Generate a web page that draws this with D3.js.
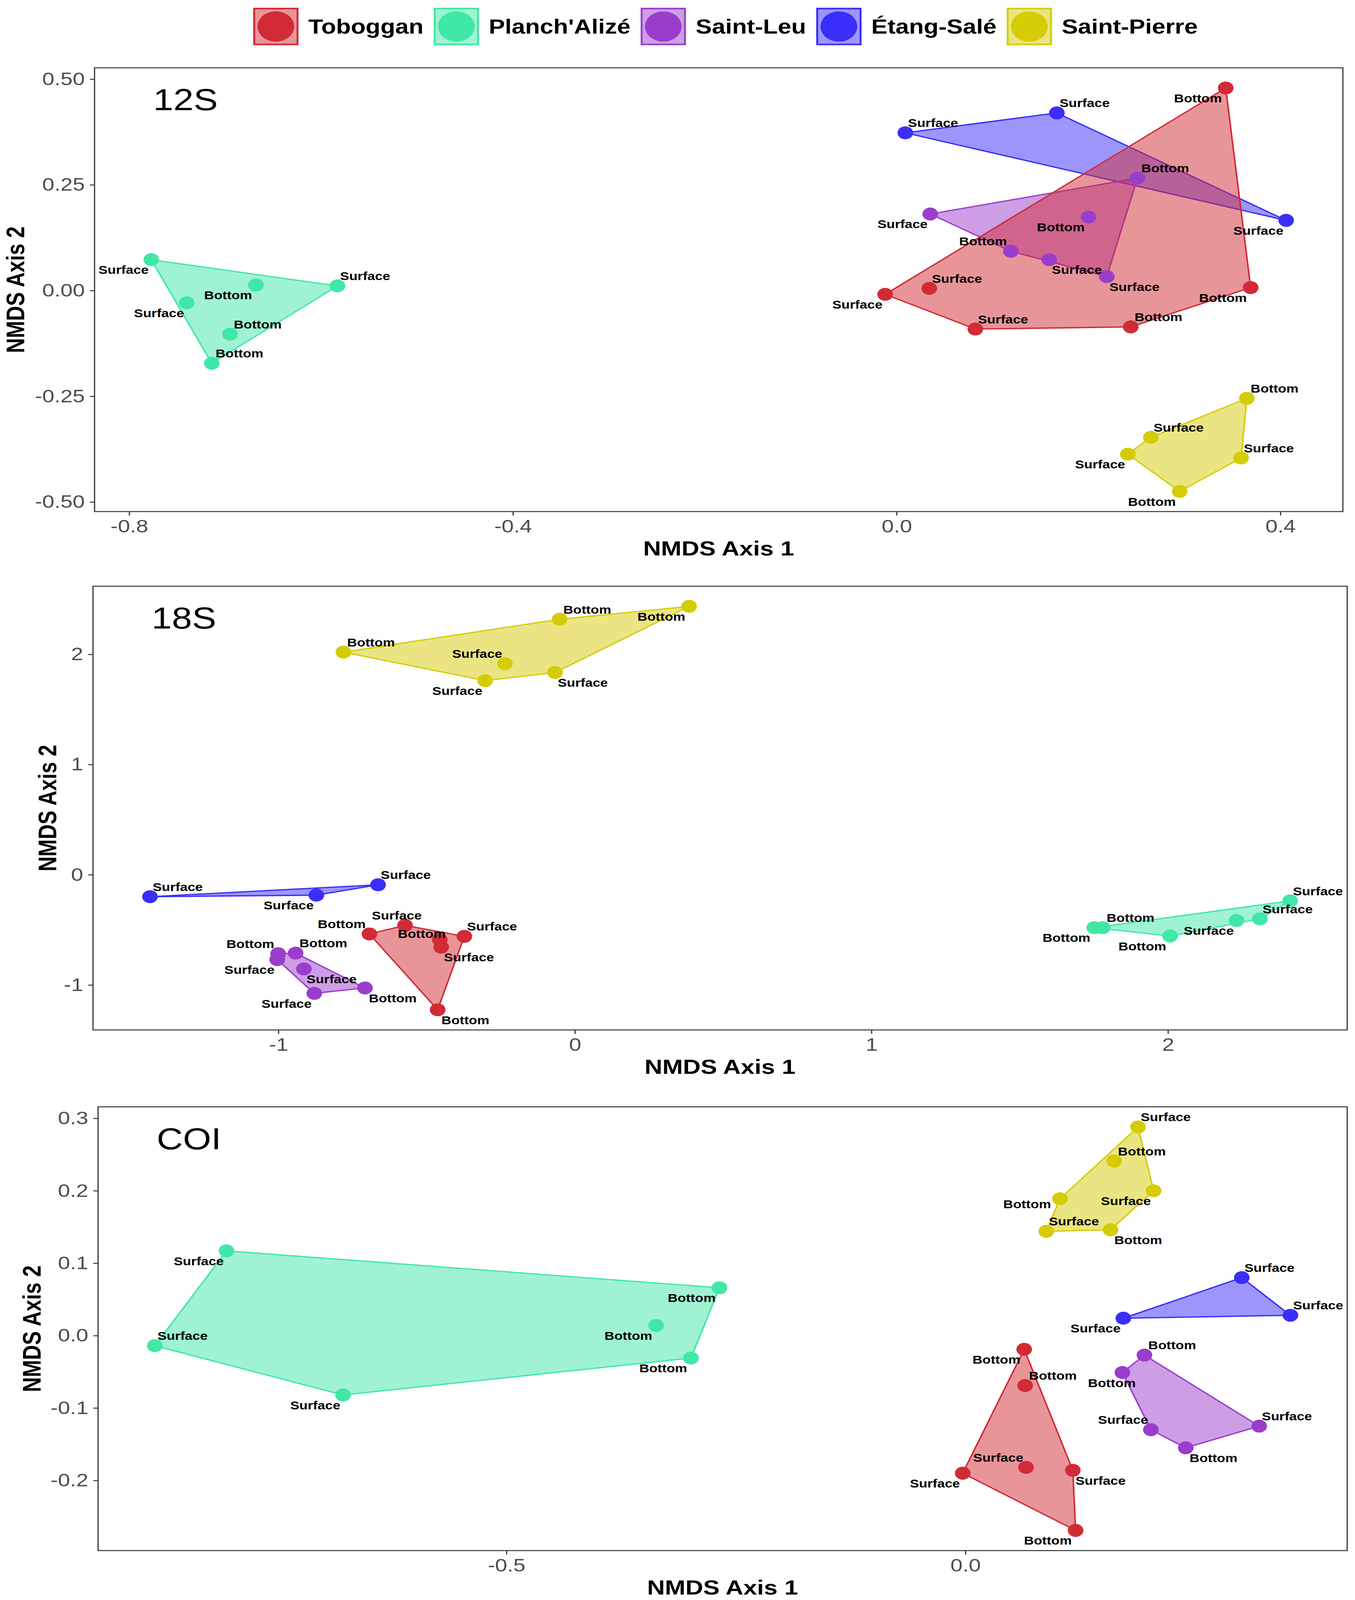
<!DOCTYPE html>
<html>
<head>
<meta charset="utf-8">
<script src="https://cdn.jsdelivr.net/npm/d3@7"></script>
<style>
  html, body { margin: 0; padding: 0; background: #fff; overflow: hidden; }
  svg { display: block; width: 100vw; height: 100vh; font-family: "Liberation Sans", Arial, sans-serif; }
</style>
</head>
<body>
<svg viewBox="0 0 3468 4954" preserveAspectRatio="none"></svg>
<script>
// sites in legend order
var sites = ["Toboggan", "Planch'Alizé", "Saint-Leu", "Étang-Salé", "Saint-Pierre"];
var siteColors = ["#D12B36", "#40E8A5", "#9B3DCC", "#3A2EFA", "#D5CC06"];
// ggplot draws groups in sorted factor order
var drawOrder = ["Étang-Salé", "Planch'Alizé", "Saint-Leu", "Saint-Pierre", "Toboggan"];

// [site, NMDS1, NMDS2, depth]
var pts12S = [
  ["Toboggan", 0.343, 0.479, "Bottom"],
  ["Toboggan", 0.369, 0.007, "Bottom"],
  ["Toboggan", 0.244, -0.086, "Bottom"],
  ["Toboggan", 0.082, -0.091, "Surface"],
  ["Toboggan", -0.012, -0.009, "Surface"],
  ["Toboggan", 0.034, 0.005, "Surface"],
  ["Planch'Alizé", -0.777, 0.073, "Surface"],
  ["Planch'Alizé", -0.668, 0.013, "Bottom"],
  ["Planch'Alizé", -0.583, 0.011, "Surface"],
  ["Planch'Alizé", -0.740, -0.029, "Surface"],
  ["Planch'Alizé", -0.695, -0.103, "Bottom"],
  ["Planch'Alizé", -0.714, -0.172, "Bottom"],
  ["Saint-Leu", 0.251, 0.266, "Bottom"],
  ["Saint-Leu", 0.035, 0.181, "Surface"],
  ["Saint-Leu", 0.200, 0.174, "Bottom"],
  ["Saint-Leu", 0.119, 0.093, "Bottom"],
  ["Saint-Leu", 0.159, 0.073, "Surface"],
  ["Saint-Leu", 0.219, 0.033, "Surface"],
  ["Étang-Salé", 0.009, 0.373, "Surface"],
  ["Étang-Salé", 0.167, 0.420, "Surface"],
  ["Étang-Salé", 0.406, 0.166, "Surface"],
  ["Saint-Pierre", 0.365, -0.255, "Bottom"],
  ["Saint-Pierre", 0.265, -0.347, "Surface"],
  ["Saint-Pierre", 0.241, -0.387, "Surface"],
  ["Saint-Pierre", 0.359, -0.396, "Surface"],
  ["Saint-Pierre", 0.295, -0.475, "Bottom"]
];
var side12S = ["sw", "sw", "ne", "ne", "sw", "ne",
  "sw", "sw", "ne", "sw", "ne", "ne",
  "ne", "sw", "sw", "nw", "se", "se",
  "ne", "ne", "sw",
  "ne", "ne", "sw", "ne", "sw"];

var pts18S = [
  ["Toboggan", -0.693, -0.537, "Bottom"],
  ["Toboggan", -0.573, -0.459, "Surface"],
  ["Toboggan", -0.456, -0.588, "Bottom"],
  ["Toboggan", -0.373, -0.559, "Surface"],
  ["Toboggan", -0.451, -0.657, "Surface"],
  ["Toboggan", -0.463, -1.225, "Bottom"],
  ["Planch'Alizé", 2.412, -0.237, "Surface"],
  ["Planch'Alizé", 2.310, -0.400, "Surface"],
  ["Planch'Alizé", 2.231, -0.415, "Surface"],
  ["Planch'Alizé", 2.007, -0.556, "Bottom"],
  ["Planch'Alizé", 1.780, -0.480, "Bottom"],
  ["Planch'Alizé", 1.751, -0.480, "Bottom"],
  ["Saint-Leu", -1.001, -0.716, "Bottom"],
  ["Saint-Leu", -0.942, -0.711, "Bottom"],
  ["Saint-Leu", -1.004, -0.770, "Surface"],
  ["Saint-Leu", -0.914, -0.854, "Surface"],
  ["Saint-Leu", -0.879, -1.076, "Surface"],
  ["Saint-Leu", -0.708, -1.027, "Bottom"],
  ["Étang-Salé", -1.433, -0.199, "Surface"],
  ["Étang-Salé", -0.872, -0.185, "Surface"],
  ["Étang-Salé", -0.664, -0.091, "Surface"],
  ["Saint-Pierre", -0.781, 2.020, "Bottom"],
  ["Saint-Pierre", -0.052, 2.318, "Bottom"],
  ["Saint-Pierre", 0.385, 2.435, "Bottom"],
  ["Saint-Pierre", -0.236, 1.915, "Surface"],
  ["Saint-Pierre", -0.303, 1.761, "Surface"],
  ["Saint-Pierre", -0.067, 1.835, "Surface"]
];
var side18S = ["nw", "n", "nw2", "ne", "se", "se",
  "ne", "ne", "sw", "sw", "ne", "sw",
  "nw", "ne", "sw", "se", "sw", "se",
  "ne", "sw", "ne",
  "ne", "ne", "sw", "nw", "sw", "se"];

var ptsCOI = [
  ["Toboggan", 0.064, -0.019, "Bottom"],
  ["Toboggan", 0.065, -0.069, "Bottom"],
  ["Toboggan", -0.003, -0.190, "Surface"],
  ["Toboggan", 0.066, -0.182, "Surface"],
  ["Toboggan", 0.117, -0.186, "Surface"],
  ["Toboggan", 0.120, -0.269, "Bottom"],
  ["Planch'Alizé", -0.805, 0.117, "Surface"],
  ["Planch'Alizé", -0.268, 0.066, "Bottom"],
  ["Planch'Alizé", -0.337, 0.014, "Bottom"],
  ["Planch'Alizé", -0.299, -0.031, "Bottom"],
  ["Planch'Alizé", -0.883, -0.014, "Surface"],
  ["Planch'Alizé", -0.678, -0.082, "Surface"],
  ["Saint-Leu", 0.195, -0.027, "Bottom"],
  ["Saint-Leu", 0.171, -0.051, "Bottom"],
  ["Saint-Leu", 0.320, -0.125, "Surface"],
  ["Saint-Leu", 0.202, -0.130, "Surface"],
  ["Saint-Leu", 0.240, -0.155, "Bottom"],
  ["Étang-Salé", 0.301, 0.080, "Surface"],
  ["Étang-Salé", 0.354, 0.028, "Surface"],
  ["Étang-Salé", 0.172, 0.024, "Surface"],
  ["Saint-Pierre", 0.188, 0.288, "Surface"],
  ["Saint-Pierre", 0.162, 0.241, "Bottom"],
  ["Saint-Pierre", 0.205, 0.200, "Surface"],
  ["Saint-Pierre", 0.103, 0.189, "Bottom"],
  ["Saint-Pierre", 0.088, 0.144, "Surface"],
  ["Saint-Pierre", 0.158, 0.146, "Bottom"]
];
var sideCOI = ["sw", "ne", "sw", "nw", "se", "sw",
  "sw", "sw", "sw", "sw", "ne", "sw",
  "ne", "s", "ne", "nw", "se",
  "ne", "ne", "sw",
  "ne", "ne", "sw", "w", "ne", "se"];

var xTicks12S = [-0.8, -0.4, 0.0, 0.4];
var yTicks12S = [-0.50, -0.25, 0.00, 0.25, 0.50];
var xTicks18S = [-1, 0, 1, 2];
var yTicks18S = [-1, 0, 1, 2];
var xTicksCOI = [-0.5, 0.0];
var yTicksCOI = [-0.2, -0.1, 0.0, 0.1, 0.2, 0.3];

var panels = [
  {tag: "12S", pts: pts12S, side: side12S, xt: xTicks12S, yt: yTicks12S, xf: ".1f", yf: ".2f",
   left: 242, right: 3437, top: 210, bottom: 1584, yTitleX: 40},
  {tag: "18S", pts: pts18S, side: side18S, xt: xTicks18S, yt: yTicks18S, xf: "d", yf: "d",
   left: 238, right: 3448, top: 1815, bottom: 3189, yTitleX: 122},
  {tag: "COI", pts: ptsCOI, side: sideCOI, xt: xTicksCOI, yt: yTicksCOI, xf: ".1f", yf: ".1f",
   left: 251, right: 3448, top: 3427, bottom: 4801, yTitleX: 82}
];

// label centre offsets from the point (px)
var nudge = {
  ne: [71, -30], nw: [-71, -30], se: [71, 32], sw: [-71, 32],
  n: [-21, -30], s: [-27, 33], w: [-84, 17], nw2: [-46, -18]
};

var color = d3.scaleOrdinal().domain(sites).range(siteColors);
var svg = d3.select("svg");

function expand(ext) {
  var pad = (ext[1] - ext[0]) * 0.05;
  return [ext[0] - pad, ext[1] + pad];
}

// R prints a plain hyphen, not U+2212
function fmt(spec) {
  var f = d3.format(spec);
  return function(d) { return f(d).replace("\u2212", "-"); };
}

panels.forEach(function(p) {
  var x = d3.scaleLinear()
    .domain(expand(d3.extent(p.pts, function(d) { return d[1]; })))
    .range([p.left, p.right]);
  var y = d3.scaleLinear()
    .domain(expand(d3.extent(p.pts, function(d) { return d[2]; })))
    .range([p.bottom, p.top]);

  var g = svg.append("g").attr("class", "panel");

  // hulls
  drawOrder.forEach(function(site) {
    var sp = p.pts.filter(function(d) { return d[0] === site; })
      .map(function(d) { return [x(d[1]), y(d[2])]; });
    var hull = d3.polygonHull(sp);
    g.append("path")
      .attr("d", "M" + hull.join("L") + "Z")
      .attr("fill", color(site))
      .attr("fill-opacity", 0.5)
      .attr("stroke", color(site))
      .attr("stroke-width", 4)
      .attr("stroke-linejoin", "round");
  });

  // points
  drawOrder.forEach(function(site) {
    g.selectAll(null)
      .data(p.pts.filter(function(d) { return d[0] === site; }))
      .enter().append("circle")
      .attr("cx", function(d) { return x(d[1]); })
      .attr("cy", function(d) { return y(d[2]); })
      .attr("r", 20)
      .attr("fill", color(site));
  });

  // depth labels
  g.selectAll(null)
    .data(p.pts)
    .enter().append("text")
    .attr("x", function(d, i) { return x(d[1]) + nudge[p.side[i]][0]; })
    .attr("y", function(d, i) { return y(d[2]) + nudge[p.side[i]][1]; })
    .attr("dy", "0.35em")
    .attr("text-anchor", "middle")
    .attr("font-size", 35)
    .attr("font-weight", "bold")
    .attr("fill", "#000")
    .text(function(d) { return d[3]; });

  // axes
  var xAxis = g.append("g")
    .attr("transform", "translate(0," + p.bottom + ")")
    .call(d3.axisBottom(x).tickValues(p.xt).tickFormat(fmt(p.xf))
      .tickSize(12).tickSizeOuter(0).tickPadding(13));
  var yAxis = g.append("g")
    .attr("transform", "translate(" + p.left + ",0)")
    .call(d3.axisLeft(y).tickValues(p.yt).tickFormat(fmt(p.yf))
      .tickSize(12).tickSizeOuter(0).tickPadding(13));
  [xAxis, yAxis].forEach(function(a) {
    a.select(".domain").remove();
    a.selectAll("line").attr("stroke", "#333").attr("stroke-width", 3);
    a.selectAll("text")
      .attr("fill", "#4D4D4D")
      .attr("font-size", 56)
      .attr("font-family", "Liberation Sans, Arial, sans-serif");
  });

  // panel border
  g.append("rect")
    .attr("x", p.left).attr("y", p.top)
    .attr("width", p.right - p.left).attr("height", p.bottom - p.top)
    .attr("fill", "none")
    .attr("stroke", "#333")
    .attr("stroke-width", 3);

  // marker tag
  g.append("text")
    .attr("x", p.left + 150)
    .attr("y", p.top + 131)
    .attr("font-size", 93)
    .attr("fill", "#000")
    .text(p.tag);

  // axis titles
  g.append("text")
    .attr("x", (p.left + p.right) / 2)
    .attr("y", p.bottom + 136)
    .attr("text-anchor", "middle")
    .attr("font-size", 63)
    .attr("font-weight", "bold")
    .text("NMDS Axis 1");

  g.append("text")
    .attr("transform", "translate(" + p.yTitleX + "," + ((p.top + p.bottom) / 2) + ") rotate(-90)")
    .attr("dy", "0.35em")
    .attr("text-anchor", "middle")
    .attr("font-size", 64)
    .attr("font-weight", "bold")
    .text("NMDS Axis 2");
});

// legend
var legend = svg.append("g").attr("class", "legend");
var lx = 648;
sites.forEach(function(site) {
  var item = legend.append("g").attr("transform", "translate(" + lx + ",24)");
  item.append("rect")
    .attr("x", 2.5).attr("y", 2.5)
    .attr("width", 111).attr("height", 111)
    .attr("fill", color(site))
    .attr("fill-opacity", 0.5)
    .attr("stroke", color(site))
    .attr("stroke-width", 5);
  item.append("circle")
    .attr("cx", 58).attr("cy", 58).attr("r", 47)
    .attr("fill", color(site));
  var t = item.append("text")
    .attr("x", 141).attr("y", 58)
    .attr("dy", "0.35em")
    .attr("font-size", 62)
    .attr("font-weight", "bold")
    .text(site);
  lx += 141 + t.node().getComputedTextLength() + 26;
});
</script>
</body>
</html>
